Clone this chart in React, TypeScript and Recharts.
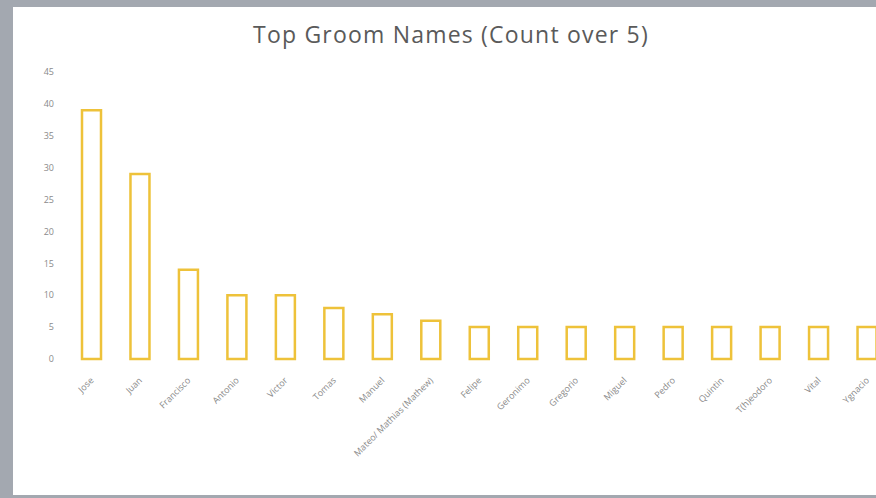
import { BarChart, Bar, XAxis, YAxis } from "recharts";

const names = [
  "Jose",
  "Juan",
  "Francisco",
  "Antonio",
  "Victor",
  "Tomas",
  "Manuel",
  "Mateo/ Mathias (Mathew)",
  "Felipe",
  "Geronimo",
  "Gregorio",
  "Miguel",
  "Pedro",
  "Quintin",
  "T(h)eodoro",
  "Vital",
  "Ygnacio",
];
const counts = [39, 29, 14, 10, 10, 8, 7, 6, 5, 5, 5, 5, 5, 5, 5, 5, 5];
const yTicks = [0, 5, 10, 15, 20, 25, 30, 35, 40, 45];

const data = names.map((name, i) => ({ name, count: counts[i] }));

const labelFont = "'Open Sans', 'Noto Sans', sans-serif";

function NameTick({ x, y, payload }: any) {
  const tx = x + 3;
  const ty = y + 14;
  return (
    <text
      x={tx}
      y={ty}
      textAnchor="end"
      fontSize={9}
      fill="#8a8a8a"
      fontFamily={labelFont}
      transform={`rotate(-45, ${tx}, ${ty})`}
    >
      {payload.value}
    </text>
  );
}

export default function App() {
  return (
    <div
      style={{
        position: "fixed",
        left: 0,
        top: 0,
        width: 876,
        height: 498,
        overflow: "hidden",
        background: "#a3a8b0",
      }}
    >
      <div
        style={{
          position: "absolute",
          left: 13,
          top: 7,
          width: 880,
          height: 488,
          background: "#ffffff",
        }}
      />
      <div
        style={{
          position: "absolute",
          left: 0,
          top: 18,
          width: 902,
          textAlign: "center",
          fontFamily: labelFont,
          fontSize: 23,
          letterSpacing: 1.2,
          lineHeight: "normal",
          color: "#5a5a5a",
        }}
      >
        Top Groom Names (Count over 5)
      </div>
      <div style={{ position: "absolute", left: 0, top: 0 }}>
        <BarChart
          width={920}
          height={498}
          data={data}
          margin={{ top: 72, right: 29, bottom: 0, left: 17 }}
          barCategoryGap={0}
        >
          <YAxis
            width={50}
            domain={[0, 45]}
            ticks={yTicks}
            axisLine={false}
            tickLine={false}
            tickSize={0}
            tickMargin={13}
            tick={{ fontSize: 9, fill: "#8a8a8a", fontFamily: labelFont }}
          />
          <XAxis
            dataKey="name"
            height={139}
            interval={0}
            axisLine={false}
            tickLine={false}
            tick={<NameTick />}
          />
          <Bar
            dataKey="count"
            barSize={19}
            fill="#ffffff"
            stroke="#eec23a"
            strokeWidth={2.5}
            isAnimationActive={false}
          />
        </BarChart>
      </div>
    </div>
  );
}
